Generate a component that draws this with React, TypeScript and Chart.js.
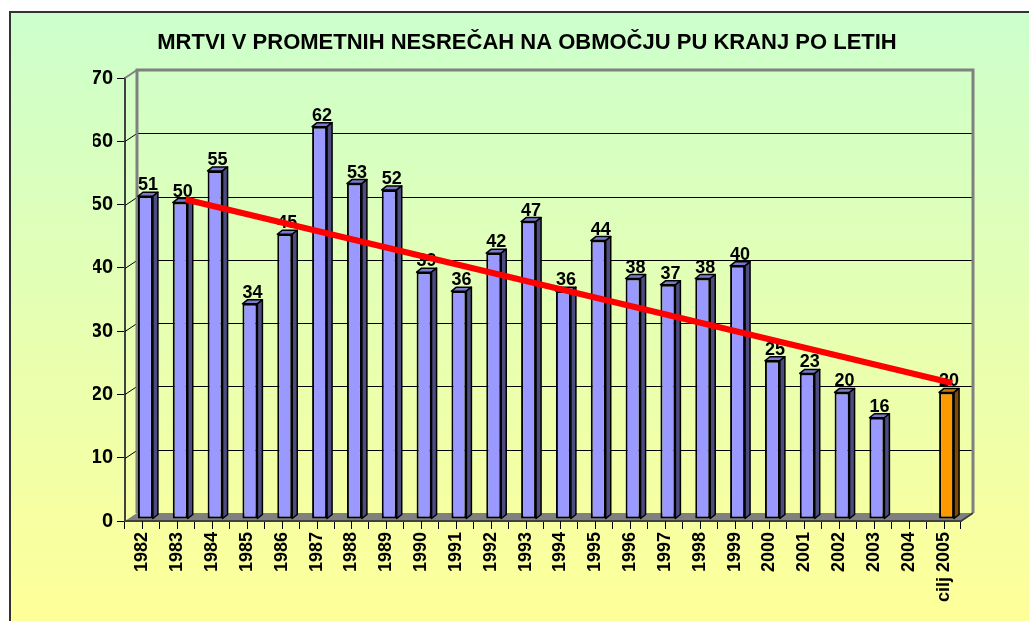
import { useEffect, useRef } from 'react';
import { Chart, registerables } from 'chart.js';

Chart.register(...registerables);

const TITLE = 'MRTVI V PROMETNIH NESREČAH NA OBMOČJU PU KRANJ PO LETIH';

const categories = [
  '1982', '1983', '1984', '1985', '1986', '1987', '1988', '1989', '1990', '1991',
  '1992', '1993', '1994', '1995', '1996', '1997', '1998', '1999', '2000', '2001',
  '2002', '2003', '2004', 'cilj 2005',
];

const deaths: (number | null)[] = [
  51, 50, 55, 34, 45, 62, 53, 52, 39, 36,
  42, 47, 36, 44, 38, 37, 38, 40, 25, 23,
  20, 16, null, 20,
];

const trend: (number | null)[] = [
  null, 49.9, null, null, null, null, null, null, null, null,
  null, null, null, null, null, null, null, null, null, null,
  null, null, null, 20.9,
];

const yMin = 0;
const yMax = 70;
const yStep = 10;

const FONT = 'Arial, "Liberation Sans", sans-serif';
const WALL_DX = 12;
const WALL_DY = -8;
const BAR_DX = 3;
const BAR_DY = -2;
const BAR_DEPTH_X = 5;
const BAR_DEPTH_Y = -4;
const LINE_DX = 8.5;
const LINE_DY = -5.7;

const targetIndex = categories.length - 1;
const faceColors = categories.map((_, i) => (i === targetIndex ? '#FF9900' : '#9999FF'));
const topColors = categories.map((_, i) => (i === targetIndex ? '#CC7A00' : '#7A7ACC'));
const sideColors = categories.map((_, i) => (i === targetIndex ? '#7F4C00' : '#4C4C80'));

const backgroundPlugin = {
  id: 'bgPlugin',
  beforeDraw(chart: any) {
    const { ctx, width, height } = chart;
    ctx.save();
    ctx.fillStyle = '#FFFFFF';
    ctx.fillRect(0, 0, width, height);
    const g = ctx.createLinearGradient(0, 11, 0, height);
    g.addColorStop(0, '#CCFFCC');
    g.addColorStop(1, '#FFFF99');
    ctx.fillStyle = g;
    ctx.fillRect(9, 11, width - 9, height - 11);
    ctx.strokeStyle = '#333333';
    ctx.lineWidth = 2;
    ctx.beginPath();
    ctx.moveTo(10, height);
    ctx.lineTo(10, 12);
    ctx.lineTo(width, 12);
    ctx.stroke();
    ctx.restore();
  },
};

const wallPlugin = {
  id: 'wallPlugin',
  beforeDatasetsDraw(chart: any) {
    const { ctx, chartArea: a, scales } = chart;
    const x = scales.x;
    const y = scales.y;
    const top = y.getPixelForValue(yMax);
    const bottom = y.getPixelForValue(yMin);
    ctx.save();
    // floor
    ctx.fillStyle = '#808080';
    ctx.beginPath();
    ctx.moveTo(a.left, bottom);
    ctx.lineTo(a.left + WALL_DX, bottom + WALL_DY);
    ctx.lineTo(a.right + WALL_DX, bottom + WALL_DY);
    ctx.lineTo(a.right, bottom);
    ctx.closePath();
    ctx.fill();
    // gridlines on back wall
    ctx.strokeStyle = '#000000';
    ctx.lineWidth = 1;
    for (let v = yMin + yStep; v < yMax; v += yStep) {
      const p = Math.round(y.getPixelForValue(v)) + 0.5;
      ctx.beginPath();
      ctx.moveTo(a.left + WALL_DX, p + WALL_DY);
      ctx.lineTo(a.right + WALL_DX, p + WALL_DY);
      ctx.moveTo(a.left, p);
      ctx.lineTo(a.left + WALL_DX, p + WALL_DY);
      ctx.stroke();
    }
    // walls outline
    ctx.strokeStyle = '#808080';
    ctx.lineWidth = 3;
    ctx.beginPath();
    ctx.moveTo(a.left + WALL_DX, bottom + WALL_DY);
    ctx.lineTo(a.left + WALL_DX, top + WALL_DY);
    ctx.lineTo(a.right + WALL_DX, top + WALL_DY);
    ctx.lineTo(a.right + WALL_DX, bottom + WALL_DY);
    ctx.stroke();
    ctx.lineWidth = 2;
    ctx.beginPath();
    ctx.moveTo(a.left, top);
    ctx.lineTo(a.left + WALL_DX, top + WALL_DY);
    ctx.stroke();
    // floor front edges
    ctx.strokeStyle = '#404040';
    ctx.lineWidth = 2;
    ctx.beginPath();
    ctx.moveTo(a.left, bottom);
    ctx.lineTo(a.right, bottom);
    ctx.lineTo(a.right + WALL_DX, bottom + WALL_DY);
    ctx.stroke();
    // ticks at category centres
    ctx.strokeStyle = '#000000';
    ctx.lineWidth = 1;
    for (let i = 0; i < categories.length; i++) {
      const cx = Math.round(x.getPixelForValue(i)) + 0.5;
      ctx.beginPath();
      ctx.moveTo(cx, bottom);
      ctx.lineTo(cx, bottom + 8);
      ctx.stroke();
    }
    ctx.restore();
  },
};

const depthPlugin = {
  id: 'depthPlugin',
  beforeDatasetDraw(chart: any, args: any) {
    const ctx = chart.ctx;
    ctx.save();
    if (args.index === 0) ctx.translate(BAR_DX, BAR_DY);
    else ctx.translate(LINE_DX, LINE_DY);
  },
  afterDatasetDraw(chart: any, args: any) {
    const ctx = chart.ctx;
    if (args.index !== 0) {
      ctx.restore();
      return;
    }
    const meta = args.meta;
    ctx.lineWidth = 1.5;
    ctx.lineJoin = 'round';
    ctx.strokeStyle = '#000000';
    meta.data.forEach((el: any, i: number) => {
      if (deaths[i] == null) return;
      const { x: cx, y: ty, width, base } = el.getProps(['x', 'y', 'width', 'base'], true);
      const l = cx - width / 2;
      const r = cx + width / 2;
      ctx.fillStyle = topColors[i];
      ctx.beginPath();
      ctx.moveTo(l, ty);
      ctx.lineTo(l + BAR_DEPTH_X, ty + BAR_DEPTH_Y);
      ctx.lineTo(r + BAR_DEPTH_X, ty + BAR_DEPTH_Y);
      ctx.lineTo(r, ty);
      ctx.closePath();
      ctx.fill();
      ctx.stroke();
      ctx.fillStyle = sideColors[i];
      ctx.beginPath();
      ctx.moveTo(r, ty);
      ctx.lineTo(r + BAR_DEPTH_X, ty + BAR_DEPTH_Y);
      ctx.lineTo(r + BAR_DEPTH_X, base + BAR_DEPTH_Y);
      ctx.lineTo(r, base);
      ctx.closePath();
      ctx.fill();
      ctx.stroke();
    });
    ctx.restore();
    // value labels
    ctx.save();
    ctx.fillStyle = '#000000';
    ctx.font = `bold 18px ${FONT}`;
    ctx.textAlign = 'center';
    ctx.textBaseline = 'alphabetic';
    meta.data.forEach((el: any, i: number) => {
      const v = deaths[i];
      if (v == null) return;
      const { x: cx, y: ty } = el.getProps(['x', 'y'], true);
      ctx.fillText(String(v), cx + BAR_DX + BAR_DEPTH_X / 2, ty + BAR_DY + BAR_DEPTH_Y - 2);
    });
    ctx.restore();
  },
};

export default function App() {
  const ref = useRef<HTMLCanvasElement>(null);
  useEffect(() => {
    if (!ref.current) return;
    const chart = new Chart(ref.current, {
      type: 'bar',
      data: {
        labels: categories,
        datasets: [
          {
            type: 'bar',
            data: deaths,
            backgroundColor: faceColors,
            borderColor: '#000000',
            borderWidth: 2,
            borderSkipped: false,
            barPercentage: 0.43,
            categoryPercentage: 1,
            order: 1,
            clip: false,
          } as any,
          {
            type: 'line',
            data: trend,
            borderColor: '#FF0000',
            borderWidth: 6,
            pointRadius: 0,
            spanGaps: true,
            tension: 0,
            order: 0,
            clip: false,
          } as any,
        ],
      },
      options: {
        responsive: false,
        animation: false,
        devicePixelRatio: 1,
        events: [],
        layout: { padding: { left: 93, right: 68, top: 0, bottom: 0 } },
        plugins: {
          legend: { display: false },
          tooltip: { enabled: false },
          title: {
            display: true,
            text: TITLE,
            color: '#000000',
            font: { family: FONT, size: 22, weight: 'bold' },
            padding: { top: 30, bottom: 21.6 },
          },
        },
        scales: {
          x: {
            type: 'category',
            grid: { display: true, drawOnChartArea: false, drawTicks: true, tickLength: 8, color: '#000000', offset: true },
            border: { display: true, color: '#404040', width: 2 },
            ticks: {
              autoSkip: false,
              maxRotation: 90,
              minRotation: 90,
              padding: 3,
              color: '#000000',
              font: { family: FONT, size: 18, weight: 'bold' },
            },
            afterFit(s: any) { s.height = 100; },
          },
          y: {
            min: yMin,
            max: yMax,
            grid: { display: true, drawOnChartArea: false, drawTicks: true, tickLength: 8, color: '#000000' },
            border: { display: true, color: '#404040', width: 2 },
            ticks: {
              stepSize: yStep,
              padding: 4,
              color: '#000000',
              font: { family: FONT, size: 20, weight: 'bold' },
            },
            afterFit(s: any) { s.width = 32; },
          },
        },
      } as any,
      plugins: [backgroundPlugin, wallPlugin, depthPlugin],
    });
    return () => chart.destroy();
  }, []);
  return (
    <div style={{ position: 'fixed', left: 0, top: 0, width: 1029, height: 621 }}>
      <canvas ref={ref} width={1029} height={621} style={{ display: 'block' }} />
    </div>
  );
}
